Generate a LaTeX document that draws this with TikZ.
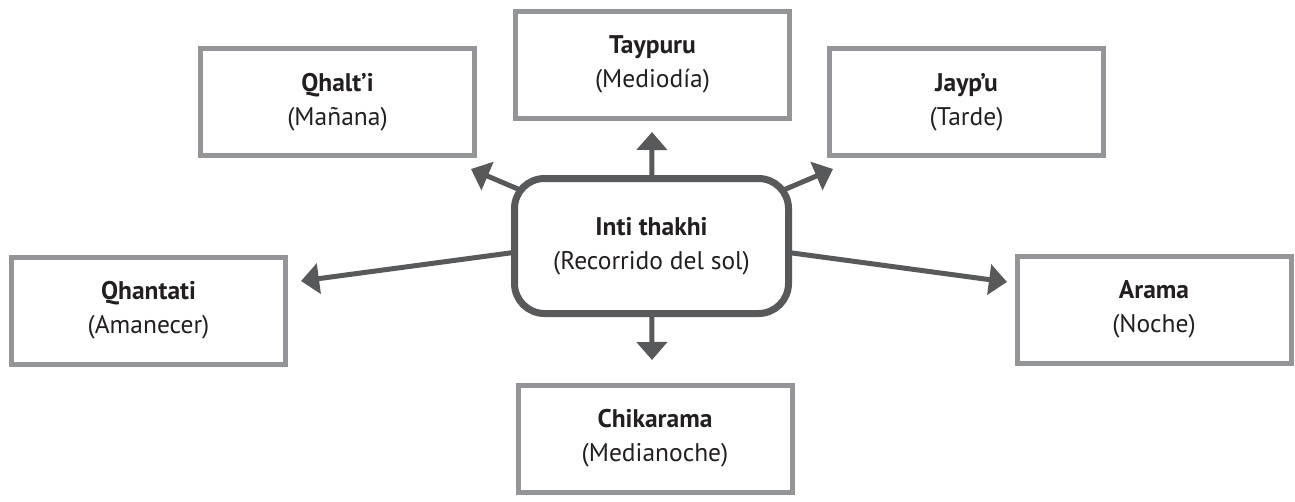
\documentclass[tikz,border=0pt]{standalone}
\usepackage{fontspec}
\setmainfont{PT Sans}
\usetikzlibrary{arrows.meta,calc,backgrounds}
\definecolor{boxgray}{HTML}{939598}
\definecolor{darkg}{HTML}{58595B}
\definecolor{txt}{HTML}{231F20}
\tikzset{
  leaf/.style={draw=boxgray, line width=5pt, fill=white, minimum width=274pt,
    minimum height=107pt, inner sep=0pt, align=center, text=txt,
    font=\fontsize{25.5}{34}\selectfont},
  hub/.style={draw=darkg, line width=7pt, fill=white, rounded corners=30pt,
    minimum width=274pt, minimum height=135pt, inner sep=0pt, align=center,
    text=txt, font=\fontsize{25.5}{34}\selectfont},
  conn/.style={draw=darkg, line width=5pt, -{Triangle[length=18pt,width=30pt]}}
}
\begin{document}
\begin{tikzpicture}[x=1pt,y=-1pt]
\useasboundingbox (0,0) rectangle (1295,501);
\node[hub]  (c)  at (651.5,246)  {{\bfseries Inti thakhi}\\(Recorrido del sol)};
\node[leaf] (q)  at (337.5,102)  {{\bfseries Qhalt’i}\\(Mañana)};
\node[leaf] (t)  at (652.5,64.5) {{\bfseries Taypuru}\\(Mediodía)};
\node[leaf] (j)  at (966.5,102)  {{\bfseries Jayp’u}\\(Tarde)};
\node[leaf] (l)  at (148.5,310.5) {{\bfseries Qhantati}\\(Amanecer)};
\node[leaf] (r)  at (1154,309.5) {{\bfseries Arama}\\(Noche)};
\node[leaf] (b)  at (655,438.5)  {{\bfseries Chikarama}\\(Medianoche)};
\coordinate (hc) at ($(c.center)+(0,-12)$);
\coordinate (tq) at (471,169);
\coordinate (tj) at (833,169);
\coordinate (tt) at (652,132);
\coordinate (tb) at (652,360);
\coordinate (tl) at (301,281);
\coordinate (tr) at (1007,282);
\begin{scope}[on background layer]
  \draw[conn] (c.center) -- (tq);
  \draw[conn] (c.center) -- (tj);
  \draw[conn] (c.center) -- (tt);
  \draw[conn] (c.center) -- (tb);
  \draw[conn] (hc) -- (tl);
  \draw[conn] (hc) -- (tr);
\end{scope}
\end{tikzpicture}
\end{document}
